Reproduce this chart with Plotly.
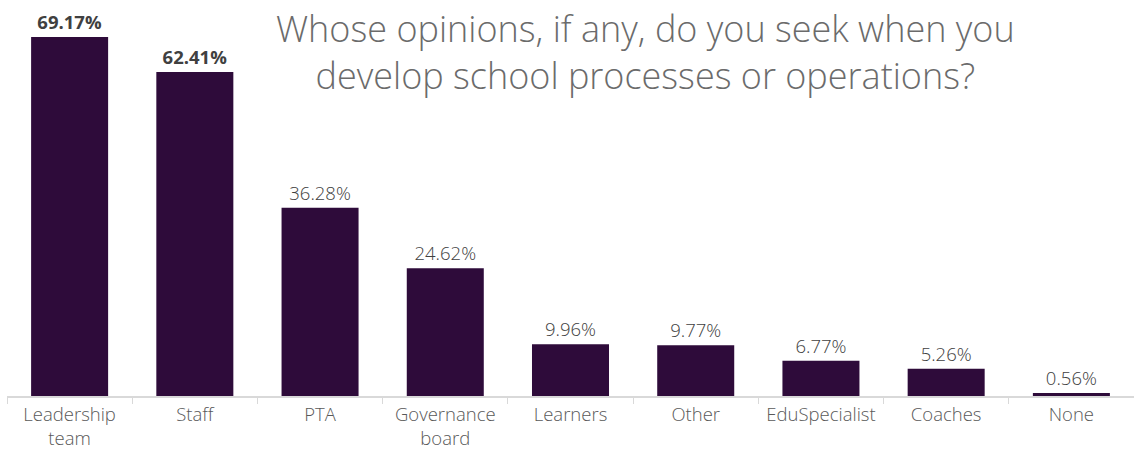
import plotly.graph_objects as go

categories = ["Leadership<br>team", "Staff", "PTA", "Governance<br>board", "Learners",
              "Other", "EduSpecialist", "Coaches", "None"]
values = [69.17, 62.41, 36.28, 24.62, 9.96, 9.77, 6.77, 5.26, 0.56]
bold = [True, True, False, False, False, False, False, False, False]

labels = [("<b>%.2f%%</b>" % v) if b else ("%.2f%%" % v) for v, b in zip(values, bold)]

FONT = "Open Sans"

fig = go.Figure(go.Bar(
    x=categories, y=values, text=labels, textposition="outside",
    marker=dict(color="#2E0B3A", line=dict(width=0)),
    textfont=dict(family=FONT, size=18.5, color="#404040", weight=300),
    cliponaxis=False, width=0.615,
))

fig.update_layout(
    width=1134, height=449,
    margin=dict(l=7, r=0, t=0, b=53, autoexpand=False),
    paper_bgcolor="white", plot_bgcolor="white",
    showlegend=False,
    font=dict(family=FONT),
    xaxis=dict(showline=True, linecolor="#D9D9D9", linewidth=1.5,
               tickson="boundaries", ticks="outside", ticklen=6, tickcolor="#D9D9D9",
               tickfont=dict(family=FONT, size=18.5, color="#595959", weight=300),
               ticklabelstandoff=1, automargin=False,
               showgrid=False),
    yaxis=dict(range=[0, 76.3], visible=False, showgrid=False, automargin=False),
    annotations=[dict(
        text="Whose opinions, if any, do you seek when you<br>develop school processes or operations?",
        x=(645 - 7) / 1127, xref="paper", y=1 - 52 / 396, yref="paper",
        xanchor="center", yanchor="middle", showarrow=False,
        font=dict(family=FONT, size=36, color="#6B6B6B", weight=300),
    )],
)

fig.write_html("out.html")
